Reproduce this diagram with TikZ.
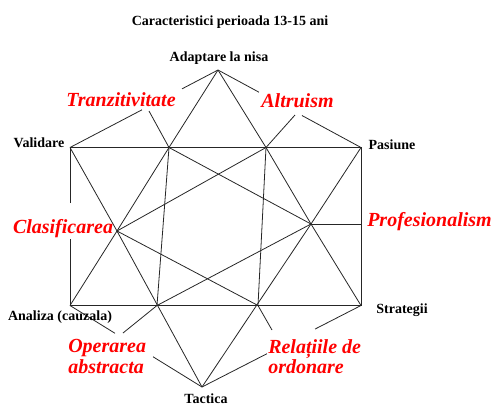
\documentclass[tikz,border=0pt]{standalone}
\usepackage{fontspec}
\setmainfont{Liberation Serif}
\usetikzlibrary{calc}
\begin{document}
\begin{tikzpicture}[x=0.75pt,y=-0.75pt,
  ln/.style={line width=0.6pt, draw=black!85},
  blk/.style={font=\bfseries\fontsize{10.5}{12}\selectfont, inner sep=0pt, anchor=base},
  redlbl/.style={text=red, font=\bfseries\itshape\fontsize{15}{15.5}\selectfont, inner sep=0pt}]
\useasboundingbox (0,0) rectangle (494,405);
% main points
\coordinate (A) at (218,70);
\coordinate (V) at (70,147.5);
\coordinate (Pa) at (361,147.5);
\coordinate (An) at (70,305.5);
\coordinate (St) at (361,305.5);
\coordinate (P1) at (169,147.5);
\coordinate (P2) at (266,147.5);
\coordinate (Q1) at (157,305.5);
\coordinate (Q2) at (258,305.5);
\coordinate (C) at (117,231);
\coordinate (R) at (311,224);
\coordinate (Rr) at (361,224);
\coordinate (Tt) at (202,387);
% gaps behind labels
\coordinate (t1) at ($(A)!0.243!(V)$);
\coordinate (t2) at ($(A)!0.5135!(V)$);
\coordinate (a1) at ($(A)!0.2867!(Pa)$);
\coordinate (a2) at ($(A)!0.587!(Pa)$);
\coordinate (o1) at ($(An)!0.341!(Tt)$);
\coordinate (o2) at ($(An)!0.629!(Tt)$);
\coordinate (r1) at ($(Tt)!0.409!(St)$);
\coordinate (r2) at ($(Tt)!0.711!(St)$);
\coordinate (c1) at (70,203);
\coordinate (c2) at (70,239);
% label connector ends
\coordinate (tz) at (149,111);
\coordinate (al) at (295,115);
\coordinate (op) at (123,333);
\coordinate (rl) at (272,330);
% lines
\draw[ln] (V) -- (Pa) -- (St) -- (An) -- (c2);
\draw[ln] (c1) -- (V);
\draw[ln] (A) -- (t1); \draw[ln] (t2) -- (V);
\draw[ln] (A) -- (a1); \draw[ln] (a2) -- (Pa);
\draw[ln] (A) -- (P1); \draw[ln] (A) -- (P2);
\draw[ln] (tz) -- (P1); \draw[ln] (al) -- (P2);
\foreach \p in {V,P1,P2,Q2,Tt,An} \draw[ln] (C) -- (\p);
\foreach \p in {Pa,P2,P1,Rr,St,Tt,Q1} \draw[ln] (R) -- (\p);
\draw[ln] (P1) -- (Q1); \draw[ln] (P2) -- (Q2);
\draw[ln] (An) -- (o1); \draw[ln] (o2) -- (Tt);
\draw[ln] (Tt) -- (r1); \draw[ln] (r2) -- (St);
\draw[ln] (op) -- (Q1); \draw[ln] (rl) -- (Q2);
% black labels
\node[blk] (title) at (230,25) {Caracteristici perioada 13-15 ani};
\node[blk] (adapt) at (219,61.5) {Adaptare la nisa};
\node[blk] (valid) at (39,147.5) {Validare};
\node[blk] (pas) at (392,149) {Pasiune};
\node[blk] (anal) at (60,320) {Analiza (cauzala)};
\node[blk] (strat) at (402,313) {Strategii};
\node[blk] (tact) at (206,403) {Tactica};
% red labels
\node[redlbl, anchor=base] (tranz) at (121,106.5) {Tranzitivitate};
\node[redlbl, anchor=base] (altr) at (297.5,107) {Altruism};
\node[redlbl, anchor=base] (clas) at (63,233) {Clasificarea};
\node[redlbl, anchor=base] (prof) at (429.5,226.5) {Profesionalism};
\node[redlbl, align=left, anchor=north west] (oper) at (68,339) {Operarea\\abstracta};
\node[redlbl, align=left, anchor=north west] (rel) at (268,339) {Relațiile de\\ordonare};
\end{tikzpicture}
\end{document}
